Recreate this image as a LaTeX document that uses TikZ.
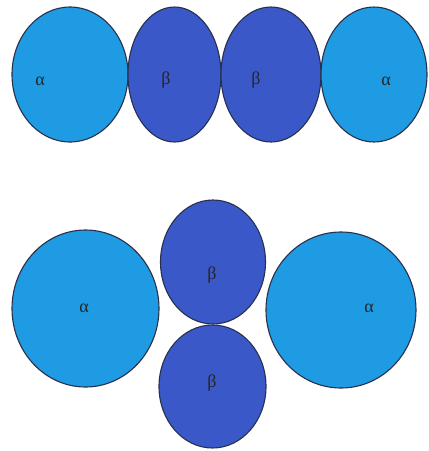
\documentclass[tikz,border=0pt]{standalone}
\usepackage{fontspec}
\setmainfont{Liberation Serif}
\usetikzlibrary{shapes.geometric}
\definecolor{alphafill}{RGB}{30,155,226}
\definecolor{betafill}{RGB}{58,88,200}
\definecolor{cellline}{RGB}{40,48,78}
\tikzset{
  cell/.style={ellipse, draw=cellline, line width=1.1pt, inner sep=0pt},
  acell/.style={cell, fill=alphafill},
  bcell/.style={cell, fill=betafill},
  lbl/.style={font=\fontsize{18}{20}\selectfont, text=black!85, inner sep=0pt}
}
\begin{document}
\begin{tikzpicture}[x=1pt,y=-1pt]
\useasboundingbox[fill=white] (0,0) rectangle (429,451);
% top row
\node[acell, minimum width=116pt, minimum height=135pt] (a1) at (70,74.5) {};
\node[bcell, minimum width=93pt, minimum height=135pt] (b1) at (174.5,74.5) {};
\node[bcell, minimum width=100pt, minimum height=135pt] (b2) at (271,74.5) {};
\node[acell, minimum width=106pt, minimum height=135pt] (a2) at (374,74.5) {};
\node[lbl] (la1) at (40,81) {α};
\node[lbl] (lb1) at (166,80) {β};
\node[lbl] (lb2) at (256,80) {β};
\node[lbl] (la2) at (386,81) {α};
% bottom group
\node[acell, minimum width=147pt, minimum height=157pt] (a3) at (85.5,308.5) {};
\node[bcell, minimum width=105pt, minimum height=124pt] (b3) at (213,262) {};
\node[bcell, minimum width=107pt, minimum height=123pt] (b4) at (212.5,386.5) {};
\node[acell, minimum width=150pt, minimum height=156pt] (a4) at (341,310) {};
\node[lbl] (la3) at (84,308) {α};
\node[lbl] (lb3) at (212,275) {β};
\node[lbl] (lb4) at (212,383) {β};
\node[lbl] (la4) at (369,308) {α};
\end{tikzpicture}
\end{document}
